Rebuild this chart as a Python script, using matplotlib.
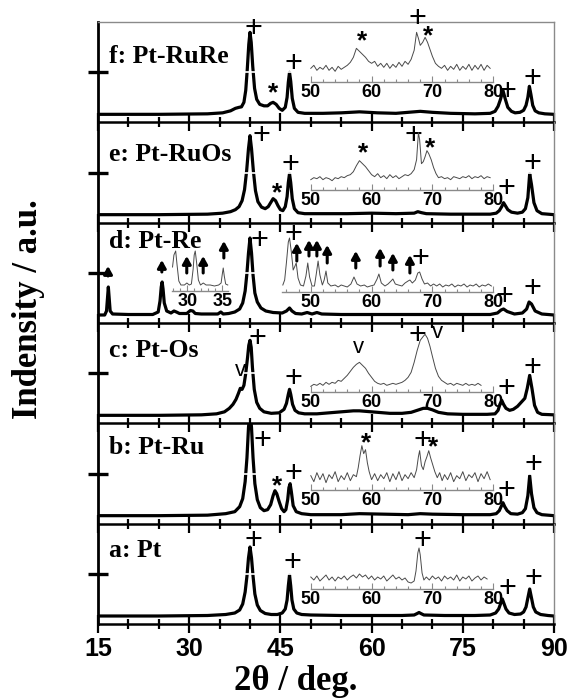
import matplotlib
matplotlib.use('Agg')
import matplotlib.pyplot as plt
from matplotlib.ticker import MultipleLocator

plt.rcParams['font.family'] = ['Liberation Sans', 'DejaVu Sans']

# main XRD patterns: (2theta, intensity above baseline)
pat_f = [(15, 0), (25, 0), (33, 0.5), (35.5, 1.5), (36.8, 3.5), (37.6, 6), (38.2, 7), (38.6, 7.5), (39.0, 12),
         (39.3, 24), (39.55, 45), (39.8, 70), (40.0, 82), (40.2, 72), (40.45, 48), (40.75, 26), (41.1, 15),
         (41.6, 10), (42.3, 8.5), (42.9, 8.5), (43.4, 11), (43.8, 12), (44.3, 10), (44.8, 6), (45.3, 4),
         (45.8, 7), (46.1, 17), (46.3, 32), (46.5, 42), (46.7, 33), (46.95, 16), (47.3, 6), (47.9, 2), (49, 1),
         (52, 1), (55, 1.5), (58, 2.5), (61, 1.5), (64, 1), (66, 2), (68, 3), (70, 2), (73, 1), (77, 0.5),
         (79.5, 1), (80.3, 3), (80.8, 8), (81.2, 15), (81.6, 24), (82.0, 15), (82.4, 7), (83.0, 3), (83.6, 1.5),
         (84.4, 2), (85.0, 4), (85.4, 9), (85.7, 17), (85.95, 28), (86.2, 20), (86.5, 9), (86.9, 3.5),
         (87.5, 1.5), (88.5, 0.5), (90, 0)]
pat_e = [(15, 0), (25, 0), (33, 0.5), (35.5, 1.5), (36.8, 3), (37.6, 5), (38.2, 8), (38.7, 14), (39.1, 25),
         (39.45, 44), (39.75, 66), (40.0, 79), (40.25, 66), (40.55, 44), (40.9, 24), (41.3, 13), (41.9, 7.5),
         (42.5, 6), (43.0, 8), (43.4, 12), (43.8, 16), (44.2, 14), (44.6, 9), (45.0, 5), (45.4, 4), (45.8, 8),
         (46.1, 18), (46.3, 32), (46.5, 41), (46.7, 32), (46.95, 16), (47.3, 6), (47.9, 2), (49, 1), (52, 1),
         (56, 1), (60, 1.5), (64, 1), (67, 1.5), (67.6, 3), (68.2, 2), (69, 1), (73, 0.5), (77, 0.5),
         (79.5, 0.5), (80.5, 1.5), (81.0, 4), (81.4, 8), (81.7, 12), (82.0, 9), (82.4, 5), (83.0, 2.5),
         (84.0, 1.5), (84.8, 2.5), (85.3, 6), (85.7, 17), (86.0, 41), (86.3, 30), (86.7, 12), (87.2, 4),
         (88, 1), (90, 0)]
pat_d = [(15, 0), (16.1, 0), (16.4, 4), (16.55, 16), (16.7, 28), (16.85, 16), (17.0, 4), (17.4, 1), (20, 0.5),
         (24, 0.5), (24.9, 3), (25.2, 14), (25.4, 28), (25.55, 33), (25.7, 26), (25.9, 12), (26.3, 4),
         (27.0, 2), (27.5, 4), (27.9, 3), (28.4, 1.5), (29.6, 1.5), (30.2, 4.5), (30.6, 4), (31.0, 1.5),
         (32, 1), (34.7, 1), (35.2, 3), (35.6, 1), (36.5, 1.5), (37.5, 3), (38.3, 6), (38.8, 12), (39.2, 24),
         (39.5, 42), (39.75, 62), (40.0, 77), (40.25, 62), (40.5, 40), (40.8, 22), (41.2, 13), (41.8, 7),
         (42.6, 4), (43.8, 2.5), (45.3, 2), (46.0, 4), (46.5, 7), (46.9, 4), (47.5, 1.5), (48.5, 1),
         (49.4, 2.5), (50.2, 1), (51.0, 2.5), (51.8, 1), (55, 0.5), (60, 0.5), (65, 0.5), (70, 0.5), (75, 0.5),
         (79.5, 0.5), (80.7, 2), (81.3, 5), (81.7, 6), (82.3, 3.5), (83.5, 1), (84.8, 2), (85.5, 6),
         (85.9, 13), (86.3, 11), (86.9, 4), (88, 1), (90, 0)]
pat_c = [(15, 0), (25, 0), (32, 0.5), (34.5, 1.5), (35.8, 3.5), (36.6, 7), (37.2, 11), (37.7, 16), (38.1, 22),
         (38.4, 27), (38.7, 26), (39.0, 30), (39.3, 42), (39.6, 58), (39.8, 70), (40.0, 75), (40.2, 68),
         (40.4, 48), (40.7, 26), (41.1, 13), (41.6, 7), (42.3, 3.5), (43.5, 2), (44.8, 2.5), (45.6, 6),
         (46.0, 12), (46.3, 21), (46.5, 26), (46.7, 21), (47.0, 11), (47.4, 5), (48.0, 2.5), (49, 1.5),
         (51, 1.5), (53, 2.5), (55, 3.5), (57, 4.5), (58, 4.5), (59, 4), (61, 3), (63, 2), (65, 2), (66.5, 3),
         (67.5, 5), (68.5, 7), (69.2, 7), (70, 5.5), (71, 3), (72.5, 1.5), (75, 1), (79, 1), (80.3, 1.5),
         (80.8, 5), (81.1, 11), (81.4, 15), (81.7, 11), (82.1, 7), (82.7, 5), (83.3, 6), (84.0, 9), (84.6, 13),
         (85.2, 17), (85.6, 27), (86.0, 40), (86.4, 26), (86.8, 10), (87.3, 3), (88, 1), (90, 0.5)]
pat_b = [(15, 0), (25, 0), (33, 0.5), (36, 2), (37.5, 4), (38.3, 9), (38.8, 17), (39.2, 34), (39.5, 58),
         (39.75, 88), (40.0, 105), (40.25, 88), (40.5, 58), (40.8, 32), (41.2, 16), (41.7, 8), (42.3, 5),
         (42.9, 6), (43.4, 11), (43.8, 20), (44.1, 25), (44.4, 22), (44.8, 14), (45.2, 7), (45.6, 4), (45.9, 6),
         (46.2, 16), (46.4, 28), (46.6, 32), (46.8, 24), (47.1, 10), (47.6, 4), (48.5, 2), (50, 1), (55, 1),
         (58, 2), (62, 1.5), (66, 1), (68, 2), (70, 1.5), (75, 1), (79.5, 1), (80.5, 2), (81.0, 5), (81.3, 9),
         (81.6, 13), (81.9, 9), (82.3, 5), (82.9, 2), (84, 1.5), (84.8, 3), (85.3, 7), (85.7, 20), (86.0, 40),
         (86.3, 22), (86.7, 8), (87.2, 3), (88, 1), (89, 0.5), (90, 0)]
pat_a = [(15, 0), (25, 0), (33, 0.5), (36, 1.5), (37.5, 3), (38.3, 6), (38.8, 12), (39.2, 24), (39.5, 40),
         (39.75, 58), (40.0, 69), (40.25, 58), (40.5, 40), (40.8, 22), (41.2, 11), (41.7, 5.5), (42.5, 2.5),
         (43.5, 1.5), (44.5, 1.5), (45.3, 3), (45.8, 7), (46.1, 16), (46.3, 30), (46.5, 41), (46.7, 30),
         (46.9, 16), (47.2, 7), (47.7, 3), (48.5, 1.5), (50, 1), (55, 0.5), (60, 0.5), (65, 0.5), (67, 1),
         (67.5, 2.5), (67.8, 3.5), (68.1, 2.5), (68.6, 1), (72, 0.5), (77, 0.5), (79.5, 1), (80.4, 3),
         (80.9, 7), (81.2, 12), (81.5, 17), (81.8, 12), (82.1, 7), (82.6, 3), (83.5, 1.5), (84.5, 2), (85.0, 4),
         (85.4, 9), (85.7, 18), (86.0, 27), (86.3, 18), (86.6, 9), (87.0, 4), (87.8, 1.5), (89, 0.5), (90, 0)]

# magnified insets: (2theta, intensity above the inset axis)
ins_f = [(50, 14), (50.5, 17), (51, 12), (51.5, 15), (52, 13), (52.5, 17), (53, 12), (53.5, 15), (54, 11),
         (54.5, 16), (55, 13), (55.5, 15), (56, 17), (56.5, 20), (57, 25), (57.5, 34), (58, 31), (58.5, 28),
         (59, 25), (59.5, 21), (60, 19), (60.5, 21), (61, 16), (61.5, 19), (62, 15), (62.5, 19), (63, 14),
         (63.5, 18), (64, 15), (64.5, 20), (65, 16), (65.5, 21), (66, 18), (66.5, 23), (67, 32), (67.4, 50),
         (67.7, 44), (68.0, 37), (68.4, 40), (68.8, 45), (69.2, 40), (69.6, 33), (70.0, 26), (70.5, 19),
         (71, 16), (71.5, 14), (72, 17), (72.5, 12), (73, 16), (73.5, 13), (74, 18), (74.5, 12), (75, 16),
         (75.5, 13), (76, 18), (76.5, 12), (77, 17), (77.5, 13), (78, 18), (78.5, 12), (79, 17), (79.5, 14)]
ins_e = [(50, 10), (50.5, 12), (51, 11), (51.5, 13), (52, 10), (52.5, 12), (53, 11), (53.5, 9), (54, 12),
         (54.5, 11), (55, 13), (55.5, 12), (56, 14), (56.5, 15), (57, 18), (57.5, 24), (58, 29), (58.5, 26),
         (59, 23), (59.5, 19), (60, 15), (60.5, 13), (61, 16), (61.5, 12), (62, 14), (62.5, 11), (63, 15),
         (63.5, 12), (64, 14), (64.5, 11), (65, 13), (65.5, 15), (66, 14), (66.5, 16), (67, 20), (67.4, 30),
         (67.7, 57), (67.9, 50), (68.2, 26), (68.5, 28), (68.8, 33), (69.1, 39), (69.4, 36), (69.8, 30),
         (70.2, 22), (70.6, 16), (71, 12), (71.5, 13), (72, 11), (72.5, 12), (73, 10), (73.5, 13), (74, 12),
         (74.5, 11), (75, 13), (75.5, 12), (76, 14), (76.5, 11), (77, 13), (77.5, 12), (78, 14), (78.5, 11),
         (79, 13), (79.5, 12)]
ins_d_low = [(27.9, 24), (28.1, 36), (28.35, 40), (28.55, 26), (28.8, 10), (29.1, 6), (29.6, 6), (29.95, 8),
             (30.3, 6), (30.6, 7), (30.85, 22), (31.0, 36), (31.15, 40), (31.35, 28), (31.6, 11), (31.9, 6),
             (32.3, 8), (32.7, 6), (33.3, 6), (33.9, 5), (34.5, 6), (34.85, 8), (35.0, 16), (35.15, 23),
             (35.3, 15), (35.5, 7), (35.8, 6)]
ins_d = [(45.4, 7), (45.7, 12), (46.0, 30), (46.3, 50), (46.5, 54), (46.8, 40), (47.1, 22), (47.4, 26),
         (47.6, 29), (47.9, 14), (48.3, 7), (48.8, 6), (49.2, 16), (49.5, 29), (49.8, 15), (50.2, 6), (50.6, 6),
         (50.9, 18), (51.2, 31), (51.5, 17), (51.9, 7), (52.2, 12), (52.5, 21), (52.8, 9), (53.3, 6), (54, 7),
         (54.5, 5), (55, 7), (55.5, 6), (56, 5), (56.6, 8), (57.1, 15), (57.6, 8), (58.2, 6), (58.8, 7),
         (59.3, 5), (59.8, 6), (60.4, 7), (60.9, 13), (61.2, 18), (61.6, 9), (62.2, 6), (62.7, 8), (63.2, 11),
         (63.5, 13), (63.9, 8), (64.4, 7), (65, 6), (65.5, 9), (66, 11), (66.3, 12), (66.7, 9), (67.2, 12),
         (67.6, 19), (67.9, 20), (68.3, 13), (68.7, 8), (69.2, 9), (69.7, 6), (70.2, 8), (70.7, 6), (71.2, 8),
         (71.7, 5), (72.2, 7), (72.7, 6), (73.2, 8), (73.7, 5), (74.2, 7), (74.7, 6), (75.2, 8), (75.7, 5),
         (76.2, 7), (76.7, 6), (77.2, 8), (77.7, 5), (78.2, 7), (78.7, 6), (79.2, 8), (79.7, 6)]
ins_c = [(50, 6), (50.5, 8), (51, 7), (51.5, 9), (52, 7), (52.5, 10), (53, 8), (53.5, 10), (54, 9), (54.5, 12),
         (55, 11), (55.5, 14), (56, 17), (56.5, 21), (57, 25), (57.5, 28), (58, 30), (58.5, 27), (59, 24),
         (59.5, 19), (60, 15), (60.5, 11), (61, 9), (61.5, 8), (62, 9), (62.5, 7), (63, 8), (63.5, 9), (64, 8),
         (64.5, 9), (65, 10), (65.5, 12), (66, 15), (66.5, 20), (67, 30), (67.5, 42), (68, 52), (68.5, 56),
         (68.8, 58), (69.2, 54), (69.6, 46), (70, 36), (70.5, 24), (71, 16), (71.5, 12), (72, 10), (72.5, 8),
         (73, 9), (73.5, 7), (74, 9), (74.5, 8), (75, 7), (75.5, 9), (76, 7), (76.5, 8), (77, 7), (77.5, 9),
         (78, 7)]
ins_b = [(50, 14), (50.5, 8), (51, 17), (51.5, 10), (52, 16), (52.5, 7), (53, 15), (53.5, 11), (54, 18),
         (54.5, 8), (55, 14), (55.5, 10), (56, 17), (56.5, 9), (57, 15), (57.5, 13), (57.8, 22), (58.1, 34),
         (58.4, 44), (58.7, 36), (59.0, 40), (59.3, 27), (59.6, 18), (60, 10), (60.5, 16), (61, 9), (61.5, 15),
         (62, 11), (62.5, 17), (63, 8), (63.5, 16), (64, 10), (64.5, 18), (65, 9), (65.5, 15), (66, 11),
         (66.5, 17), (67, 12), (67.4, 20), (67.7, 33), (67.9, 39), (68.2, 24), (68.5, 20), (68.8, 28),
         (69.1, 33), (69.4, 39), (69.7, 32), (70.0, 26), (70.4, 18), (70.8, 12), (71.2, 17), (71.6, 9),
         (72, 15), (72.5, 10), (73, 17), (73.5, 8), (74, 14), (74.5, 11), (75, 18), (75.5, 9), (76, 15),
         (76.5, 12), (77, 17), (77.5, 8), (78, 16), (78.5, 11), (79, 18), (79.5, 10)]
ins_a = [(50, 12), (50.5, 9), (51, 13), (51.5, 8), (52, 11), (52.5, 14), (53, 9), (53.5, 12), (54, 8),
         (54.5, 12), (55, 10), (55.5, 13), (56, 9), (56.5, 12), (57, 14), (57.5, 11), (58, 15), (58.5, 12),
         (59, 14), (59.5, 10), (60, 13), (60.5, 9), (61, 12), (61.5, 10), (62, 13), (62.5, 8), (63, 11),
         (63.5, 14), (64, 10), (64.5, 12), (65, 9), (65.5, 11), (66, 7), (66.5, 6), (67, 8), (67.3, 18),
         (67.6, 36), (67.8, 41), (68.0, 34), (68.3, 16), (68.6, 9), (69, 12), (69.5, 9), (70, 13), (70.5, 10),
         (71, 12), (71.5, 8), (72, 13), (72.5, 10), (73, 12), (73.5, 9), (74, 14), (74.5, 8), (75, 12),
         (75.5, 10), (76, 13), (76.5, 8), (77, 11), (77.5, 13), (78, 9), (78.5, 12), (79, 10)]

labels = ['f: Pt-RuRe', 'e: Pt-RuOs', 'd: Pt-Re', 'c: Pt-Os', 'b: Pt-Ru', 'a: Pt']
patterns = [pat_f, pat_e, pat_d, pat_c, pat_b, pat_a]

# layout (pixels of the 571x700 picture)
W, H = 571, 700
X0, X1 = 98, 554
TOP, BOT = 22, 624
PH = (BOT - TOP) / 6.0
BASE = 8
YTICK = 42

# insets per panel: data, left, right (main 2theta), axis height, xlim, major, minor
insets = [
    [(ins_f, 50, 80, 32, (50, 80), 10, 2)],
    [(ins_e, 50, 80, 25, (50, 80), 10, 2)],
    [(ins_d_low, 27.2, 36.4, 24, (27.85, 35.85), 5, 1), (ins_d, 45.3, 80, 23, (45.3, 80), 10, 2)],
    [(ins_c, 50, 80, 23, (50, 80), 10, 2)],
    [(ins_b, 50, 80, 26, (50, 80), 10, 2)],
    [(ins_a, 50, 80, 27, (50, 80), 10, 2)],
]
# peak markers (symbol, 2theta, height) and label baselines
marks = [
    [('+', 40.5, 89), ('*', 43.8, 29), ('+', 47.1, 54), ('+', 82.4, 26), ('+', 86.4, 39),
     ('*', 58.4, 81), ('+', 67.6, 99), ('*', 69.3, 86)],
    [('+', 41.8, 82), ('*', 44.4, 29), ('+', 46.7, 53), ('+', 82.2, 29), ('+', 86.4, 54),
     ('*', 58.6, 69), ('+', 66.8, 82), ('*', 69.6, 74)],
    [('+', 41.5, 77), ('+', 47.1, 84), ('+', 68.0, 60), ('+', 81.8, 22), ('+', 86.4, 29)],
    [('v', 38.4, 45), ('+', 41.3, 80), ('+', 47.2, 40), ('+', 82.1, 30), ('+', 86.4, 51),
     ('v', 57.8, 68), ('+', 67.6, 83), ('v', 70.8, 83)],
    [('+', 42.1, 78), ('*', 44.5, 37), ('+', 47.1, 45), ('+', 82.1, 28), ('+', 86.6, 54),
     ('*', 59.1, 80), ('+', 68.4, 78), ('*', 70.1, 76)],
    [('+', 40.5, 78), ('+', 46.9, 56), ('+', 82.3, 30), ('+', 86.6, 41), ('+', 68.4, 79)],
]
label_y = [51, 54, 67, 58, 62, 59]
# arrows in panel d: (2theta, tail, head)
arrows_d = [(16.65, 39, 49), (25.5, 43, 55), (29.6, 42, 59), (32.3, 42, 59), (35.7, 57, 74),
            (47.7, 54, 72), (49.7, 59, 75), (51.0, 59, 75), (52.7, 52, 70), (57.4, 47, 64),
            (61.4, 49, 67), (63.5, 45, 62), (66.3, 42, 60)]

sym_style = {'+': dict(fontsize=22, fontweight='normal', dy=0),
             '*': dict(fontsize=19, fontweight='bold', dy=-5),
             'v': dict(fontsize=16, fontweight='normal', dy=2)}

fig = plt.figure(figsize=(W / 100, H / 100), dpi=100)

for i in range(6):
    ax = fig.add_axes([X0 / W, 1 - (TOP + (i + 1) * PH) / H, (X1 - X0) / W, PH / H])
    ax.patch.set_alpha(0)
    x, y = zip(*patterns[i])
    ax.plot(x, y, color='k', lw=2.3, solid_joinstyle='round')
    # thin white cut through the peaks at the tick level, as in the scan
    ax.axhline(YTICK, xmin=0.03, xmax=0.99, color='white', lw=1.2, zorder=2.1)
    ax.set_xlim(15, 90)
    ax.set_ylim(-BASE, PH - BASE)
    ax.xaxis.set_major_locator(MultipleLocator(15))
    ax.xaxis.set_minor_locator(MultipleLocator(5))
    ax.tick_params(axis='x', which='major', direction='inout', length=13, width=1.6,
                   labelsize=18, pad=3, labelbottom=(i == 5))
    ax.tick_params(axis='x', which='minor', direction='inout', length=7, width=1.6)
    ax.set_yticks([YTICK])
    ax.tick_params(axis='y', direction='inout', length=15, width=2.4, labelleft=False)
    for lab in ax.get_xticklabels():
        lab.set_fontweight('bold')
    ax.spines['left'].set_linewidth(2)
    ax.spines['bottom'].set_linewidth(1.8)
    ax.spines['right'].set_color('#8a8a8a')
    ax.spines['right'].set_linewidth(1)
    if i == 0:
        ax.spines['top'].set_color('#8a8a8a')
        ax.spines['top'].set_linewidth(1)
    else:
        ax.spines['top'].set_visible(False)

    ax.text(16.8, label_y[i], labels[i], family='Liberation Serif', fontweight='bold',
            fontsize=18.5, ha='left', va='baseline')

    for data, a0, a1, hy, xl, maj, mnr in insets[i]:
        hh = PH - BASE - hy
        ins = ax.inset_axes([a0, hy, a1 - a0, hh], transform=ax.transData)
        ix, iy = zip(*data)
        ins.plot(ix, iy, color='#4a4a4a', lw=0.7, clip_on=False)
        ins.set_xlim(*xl)
        ins.set_ylim(0, hh)
        ins.patch.set_alpha(0)
        for s in ['left', 'right', 'top']:
            ins.spines[s].set_visible(False)
        ins.spines['bottom'].set_color('#8a8a8a')
        ins.spines['bottom'].set_linewidth(1)
        ins.set_yticks([])
        ins.xaxis.set_major_locator(MultipleLocator(maj))
        ins.xaxis.set_minor_locator(MultipleLocator(mnr))
        ins.tick_params(axis='x', which='major', direction='in', length=4, width=0.8,
                        color='#8a8a8a', labelsize=13, pad=1.5)
        ins.tick_params(axis='x', which='minor', direction='in', length=2.5, width=0.8, color='#8a8a8a')
        for lab in ins.get_xticklabels():
            lab.set_fontweight('bold')

    for sym, mx, my in marks[i]:
        st = sym_style[sym]
        ax.text(mx, my + st['dy'], sym, fontsize=st['fontsize'], fontweight=st['fontweight'],
                ha='center', va='center_baseline', clip_on=False)

    if i == 2:
        for ax_x, y_tail, y_head in arrows_d:
            ax.annotate('', xy=(ax_x, y_head), xytext=(ax_x, y_tail),
                        arrowprops=dict(arrowstyle='-|>,head_width=0.25,head_length=0.45',
                                        lw=2.2, color='k', shrinkA=0, shrinkB=0))

fig.text(29 / W, 1 - 309 / H, 'Indensity / a.u.', rotation=90, ha='center', va='center',
         family='Liberation Serif', fontweight='bold', fontsize=25)
fig.text(296 / W, 1 - 682 / H, '2θ / deg.', ha='center', va='center',
         family='Liberation Serif', fontweight='bold', fontsize=25)

fig.savefig('out.png', dpi=100)
